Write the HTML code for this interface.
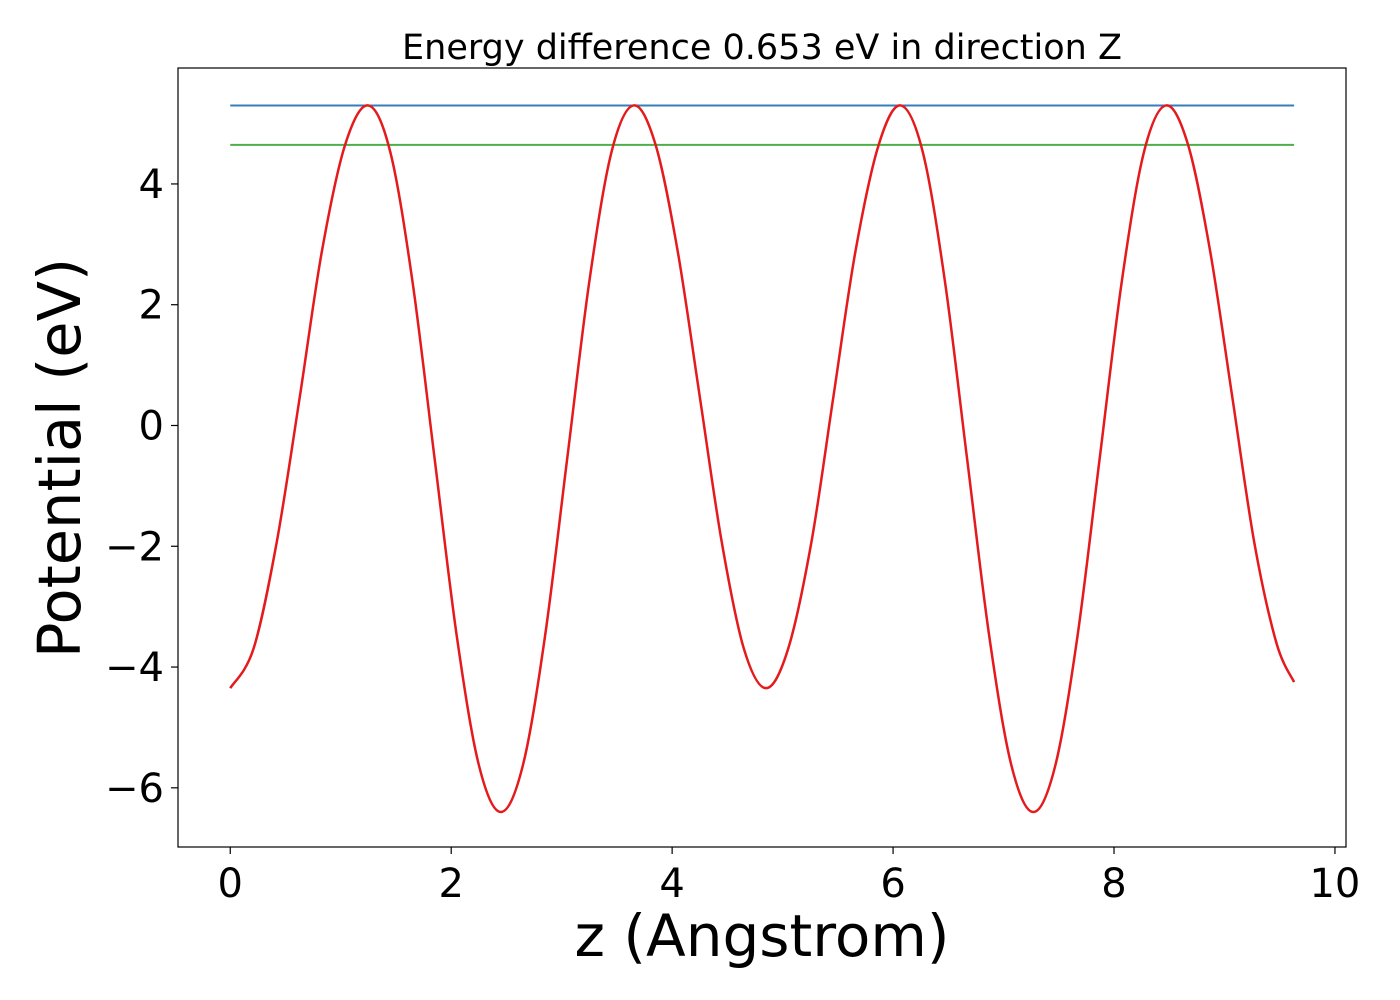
<!DOCTYPE html>
<html><head><meta charset="utf-8">
<style>
html,body{margin:0;padding:0;background:#fff;}
svg{display:block;font-family:"DejaVu Sans","Liberation Sans",sans-serif;}
</style></head>
<body>
<svg id="chart" width="1400" height="1000" viewBox="0 0 1400 1000">
<rect x="0" y="0" width="1400" height="1000" fill="#fff"/>
<text x="762" y="59" text-anchor="middle" font-size="35">Energy difference 0.653 eV in direction Z</text>
<g id="xticks"></g>
<g id="yticks"></g>
<g id="series"></g>
<rect x="178" y="68" width="1168" height="779" fill="none" stroke="#000" stroke-width="1.2"/>
<text x="762" y="956" text-anchor="middle" font-size="58">z (Angstrom)</text>
<text transform="translate(80,458) rotate(-90)" text-anchor="middle" font-size="59">Potential (eV)</text>
</svg>
<script>
const xTicks = [0, 2, 4, 6, 8, 10];
const yTicks = [-6, -4, -2, 0, 2, 4];
const zValues = [0,0.21,0.42,0.63,0.83,1.04,1.25,1.45,1.65,1.85,2.05,2.25,2.45,2.65,2.85,3.05,3.25,3.45,3.65,3.85,4.05,4.25,4.45,4.65,4.85,5.05,5.26,5.46,5.66,5.87,6.07,6.27,6.47,6.67,6.87,7.07,7.27,7.47,7.67,7.87,8.07,8.27,8.47,8.67,8.87,9.07,9.27,9.47,9.63];
const potential = [-4.35,-3.70,-1.94,0.48,2.89,4.65,5.3,4.52,2.38,-0.55,-3.48,-5.62,-6.4,-5.62,-3.48,-0.55,2.38,4.52,5.3,4.65,2.89,0.48,-1.94,-3.70,-4.35,-3.70,-1.94,0.48,2.89,4.65,5.3,4.52,2.38,-0.55,-3.48,-5.62,-6.4,-5.62,-3.48,-0.55,2.38,4.52,5.3,4.65,2.89,0.48,-1.94,-3.6,-4.25];
const maxLevel = 5.3;
const energyDiff = 0.653;
const lineRange = [0, 9.63];

const NS = "http://www.w3.org/2000/svg";
const X0 = 178, X1 = 1346, Y0 = 68, Y1 = 847;
const xMin = -0.473, xMax = 10.1, yMin = -6.98, yMax = 5.92;
const sx = v => X0 + (v - xMin) / (xMax - xMin) * (X1 - X0);
const sy = v => Y1 - (v - yMin) / (yMax - yMin) * (Y1 - Y0);
function mk(tag, attrs, parent){const e=document.createElementNS(NS,tag);for(const k in attrs)e.setAttribute(k,attrs[k]);parent.appendChild(e);return e;}

const gx = document.getElementById('xticks');
xTicks.forEach(t=>{
  const l = mk('line',{x1:sx(t),x2:sx(t),y1:Y1,y2:Y1+7,stroke:'#000','stroke-width':1.2},gx);
  
  
  const tx = mk('text',{x:sx(t),y:Y1+50,'text-anchor':'middle','font-size':40},gx);
  tx.textContent = String(t);
  
  
});
const gy = document.getElementById('yticks');
yTicks.forEach(t=>{
  const l = mk('line',{x1:X0-7,x2:X0,y1:sy(t),y2:sy(t),stroke:'#000','stroke-width':1.2},gy);
  
  
  const tx = mk('text',{x:X0-14,y:sy(t)+14,'text-anchor':'end','font-size':40},gy);
  tx.textContent = t<0 ? '\u2212'+Math.abs(t) : String(t);
  
  
});

const gs = document.getElementById('series');
const maxLine = mk('line',{x1:sx(lineRange[0]),x2:sx(lineRange[1]),y1:sy(maxLevel),y2:sy(maxLevel),stroke:'#377eb8','stroke-width':2},gs);


const lvl = maxLevel - energyDiff;
const greenLine = mk('line',{x1:sx(lineRange[0]),x2:sx(lineRange[1]),y1:sy(lvl),y2:sy(lvl),stroke:'#4daf4a','stroke-width':2},gs);



const pts = zValues.map((z,i)=>[sx(z),sy(potential[i])]);
let d = 'M'+pts[0][0]+','+pts[0][1];
for(let i=0;i<pts.length-1;i++){
  const p0=pts[Math.max(0,i-1)],p1=pts[i],p2=pts[i+1],p3=pts[Math.min(pts.length-1,i+2)];
  const c1=[p1[0]+(p2[0]-p0[0])/6,p1[1]+(p2[1]-p0[1])/6];
  const c2=[p2[0]-(p3[0]-p1[0])/6,p2[1]-(p3[1]-p1[1])/6];
  d+=' C'+c1[0]+','+c1[1]+' '+c2[0]+','+c2[1]+' '+p2[0]+','+p2[1];
}
const curve = mk('path',{d:d,fill:'none',stroke:'#e41a1c','stroke-width':2.5},gs);


</script>
</body></html>
